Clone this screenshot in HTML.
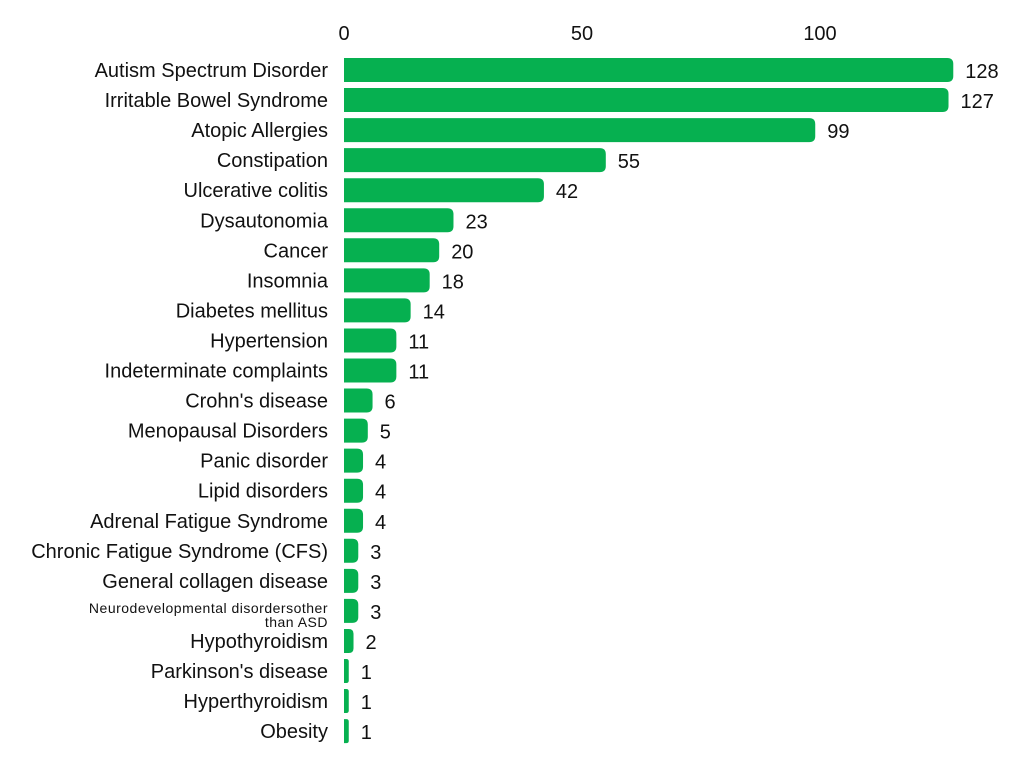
<!DOCTYPE html>
<html><head><meta charset="utf-8"><style>
body{margin:0;background:#fff;width:1024px;height:768px;overflow:hidden}
svg text{font-family:"Liberation Sans",sans-serif;fill:#111}
</style></head><body>
<svg width="1024" height="768">
<g id="axis"></g>
<g id="bars"></g>
</svg>
<script>
const categories=["Autism Spectrum Disorder","Irritable Bowel Syndrome","Atopic Allergies","Constipation","Ulcerative colitis","Dysautonomia","Cancer","Insomnia","Diabetes mellitus","Hypertension","Indeterminate complaints","Crohn's disease","Menopausal Disorders","Panic disorder","Lipid disorders","Adrenal Fatigue Syndrome","Chronic Fatigue Syndrome (CFS)","General collagen disease","Neurodevelopmental disordersother than ASD","Hypothyroidism","Parkinson's disease","Hyperthyroidism","Obesity"];
const values=[128,127,99,55,42,23,20,18,14,11,11,6,5,4,4,4,3,3,3,2,1,1,1];
const ticks=[0,50,100];
const NS="http://www.w3.org/2000/svg";
const x=v=>344+v*4.76;
const y=i=>70+i*30.05;
const ax=document.getElementById('axis'),bg=document.getElementById('bars');
function mk(t,a,p){const e=document.createElementNS(NS,t);for(const k in a)e.setAttribute(k,a[k]);p.appendChild(e);return e;}
ticks.forEach(t=>{const e=mk('text',{x:x(t),y:40,'text-anchor':'middle','font-size':20},ax);


e.textContent=t;});
categories.forEach((c,i)=>{
const w=x(values[i])-344,cy=y(i),h=24,r=Math.min(6,w/2);
const b=mk('path',{d:`M344,${cy-h/2}H${344+w-r}Q${344+w},${cy-h/2} ${344+w},${cy-h/2+r}V${cy+h/2-r}Q${344+w},${cy+h/2} ${344+w-r},${cy+h/2}H344Z`,fill:'#06b050'},bg);


let l;
if(c.startsWith('Neurodevelopmental')){
l=mk('text',{x:328,y:cy+2,'text-anchor':'end','font-size':14,'letter-spacing':'0.5'},bg);
const t1=mk('tspan',{x:328},l);t1.textContent='Neurodevelopmental disordersother';
const t2=mk('tspan',{x:328,dy:14},l);t2.textContent='than ASD';
}else{
l=mk('text',{x:328,y:cy+7,'text-anchor':'end','font-size':20},bg);l.textContent=c;}


const v=mk('text',{x:344+w+12,y:cy+8,'font-size':20},bg);v.textContent=values[i];


});
</script>
</body></html>
